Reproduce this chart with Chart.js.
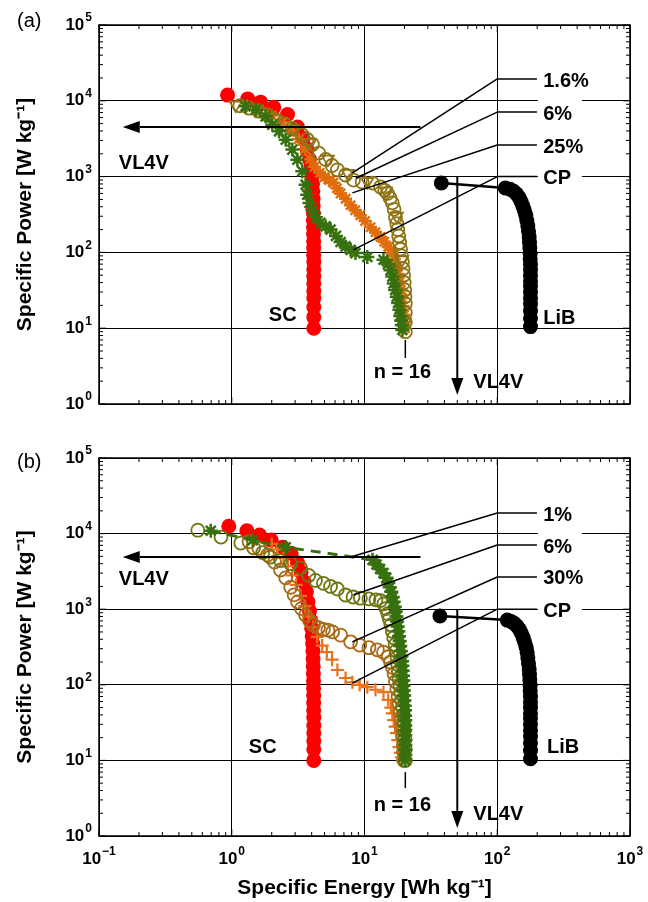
<!DOCTYPE html>
<html lang="en">
<head>
<meta charset="UTF-8">
<title>Ragone plots (a) and (b)</title>
<script src="https://cdn.jsdelivr.net/npm/chart.js"></script>
<style>
  body { margin: 0; background: #fff; }
  #wrap { position: relative; width: 648px; height: 902px; }
  canvas { position: absolute; left: 0; }
  #chartA { top: 0; }
  #chartB { top: 440px; }
</style>
</head>
<body>
<div id="wrap">
  <canvas id="chartA" width="648" height="440"></canvas>
  <canvas id="chartB" width="648" height="462"></canvas>
</div>
<script>
// ---- panel (a): specific energy [Wh/kg] and specific power [W/kg] ----
var aRedE = [0.93, 1.32, 1.65, 2.07, 2.63, 3.13, 3.45, 3.70, 3.85, 3.95, 4.02, 4.06, 4.08, 4.10, 4.11, 4.12, 4.12, 4.13, 4.13, 4.14, 4.14, 4.14, 4.15, 4.15, 4.15, 4.15, 4.15, 4.15, 4.15, 4.15, 4.15];
var aRedP = [11900, 10600, 9600, 8200, 6600, 4500, 3200, 2300, 1700, 1300, 1000, 800, 640, 510, 410, 330, 265, 215, 175, 140, 115, 92, 75, 60, 48, 39, 31, 25, 19, 14, 10];

var aGreenE = [1.27, 1.52, 1.80, 2.02, 2.27, 2.55, 2.86, 3.12, 3.40, 3.60, 3.70, 3.85, 4.05, 4.30, 4.65, 5.10, 5.55, 6.10, 6.60, 7.20, 7.86, 8.55, 10.5, 13.9, 15.0, 15.7, 16.2, 16.6, 17.0, 17.5, 17.9, 18.3, 18.6, 18.9, 19.1, 19.3];
var aGreenP = [8460, 7630, 6240, 4840, 3960, 3070, 2270, 1670, 1175, 782, 577, 450, 360, 290, 245, 220, 200, 165, 137, 120, 108, 98, 87, 80, 70, 58, 48, 39, 32, 26, 21.5, 17.5, 14.5, 12.5, 11, 9.5];

var aOliveE = [1.15, 1.35, 1.6, 1.85, 2.14, 2.5, 2.86, 3.4, 3.7, 4.05, 4.53, 5.1, 5.7, 6.25, 7.2, 8.25, 9.6, 11.5, 13.2, 14.2, 14.9, 15.6, 16.2, 16.7, 17.1, 17.5, 17.8, 18.1, 18.4, 18.7, 19.0, 19.3, 19.5, 19.7, 19.9, 20.1, 20.2, 20.3, 20.3, 20.3, 20.3];
var aOliveP = [8600, 8000, 7300, 6500, 5630, 5000, 4340, 3550, 3100, 2660, 2040, 1680, 1400, 1230, 1050, 900, 850, 820, 730, 660, 600, 520, 450, 370, 290, 240, 200, 165, 135, 110, 90, 75, 61, 50, 40, 32, 26, 21, 16, 12, 9];

var aTriE = [1.07, 1.5, 2.1, 2.9, 3.9, 5.3, 7.5, 10.5, 14.5, 17.5, 19.2, 20.2];
var aTriP = [8800, 7600, 5900, 4300, 2800, 1700, 1100, 860, 650, 300, 80, 12];

var aOrangeE = [1.3, 1.6, 2.0, 2.4, 2.8, 3.2, 3.55, 3.9, 4.2, 4.6, 5.0, 5.4, 5.83, 6.2, 6.6, 7.2, 7.86, 8.5, 9.3, 10.1, 11.1, 12.1, 13.2, 14.1, 15.1, 15.7, 16.2, 16.8, 17.4, 17.9, 18.4, 18.8, 19.2, 19.5, 19.8, 20.0, 20.1];
var aOrangeP = [8600, 7600, 6400, 5200, 4100, 3100, 2300, 1700, 1350, 1120, 980, 900, 830, 700, 600, 510, 420, 360, 310, 260, 215, 185, 160, 138, 118, 108, 98, 82, 66, 52, 41, 32, 25, 19.5, 15, 12, 10];

var aLibE = [37.9, 115, 125, 133, 140, 146, 151, 156, 160, 164, 167, 170, 172, 174, 175, 176, 177, 177, 178, 178, 178, 178, 178, 178, 178, 178, 178, 178, 178];
var aLibP = [824, 707, 680, 640, 590, 530, 470, 410, 360, 310, 265, 225, 190, 160, 135, 115, 97, 82, 70, 59, 50, 42, 36, 30, 25, 21, 17, 13.5, 10.5];

// ---- panel (b) ----
var bRedE = [0.95, 1.30, 1.62, 1.98, 2.42, 2.80, 3.13, 3.33, 3.50, 3.65, 3.75, 3.85, 3.93, 4.00, 4.04, 4.07, 4.09, 4.10, 4.11, 4.12, 4.13, 4.13, 4.14, 4.14, 4.14, 4.15, 4.15, 4.15, 4.15, 4.15, 4.15];
var bRedP = [12500, 10900, 9600, 8200, 6600, 5500, 4100, 3100, 2300, 1700, 1250, 950, 720, 560, 440, 350, 280, 220, 175, 140, 112, 90, 72, 58, 46, 37, 29, 23, 18, 14, 10];

var bGreenE = [0.695, 1.44, 2.55, 11.5, 12.3, 13.1, 13.9, 14.6, 15.1, 15.5, 15.9, 16.3, 16.6, 16.9, 17.2, 17.4, 17.6, 17.8, 18.0, 18.2, 18.4, 18.6, 18.8, 19.0, 19.2, 19.3, 19.4, 19.5, 19.6, 19.7, 19.8, 19.9, 20.0, 20.1, 20.2, 20.2, 20.3, 20.3, 20.3, 20.3, 20.3, 20.3, 20.3, 20.3, 20.3];
var bGreenP = [10900, 8200, 6600, 4500, 3900, 3400, 3000, 2600, 2250, 1950, 1700, 1450, 1250, 1080, 930, 800, 690, 590, 510, 440, 380, 325, 280, 240, 205, 178, 153, 132, 114, 98, 84, 72, 62, 53, 46, 39, 34, 29, 25, 21.5, 18.5, 16, 13.8, 11.9, 10];

var bOliveE = [0.555, 0.83, 1.17, 1.46, 1.71, 1.95, 2.33, 2.78, 3.3, 3.8, 4.27, 4.9, 5.55, 6.25, 7.2, 8.2, 9.3, 10.8, 12.2, 13.2, 14.0, 14.5, 15.0, 15.4, 15.8, 16.2, 16.6, 17.0, 17.3, 17.6, 17.8, 18.0, 18.2, 18.5, 18.8, 19.1, 19.3, 19.6, 19.8, 20.0, 20.2, 20.3, 20.3];
var bOliveP = [11100, 9000, 7500, 6500, 5600, 4900, 4400, 4000, 3500, 2800, 2400, 2200, 2000, 1850, 1540, 1450, 1400, 1370, 1330, 1300, 1180, 1020, 870, 740, 620, 510, 420, 340, 280, 230, 185, 150, 120, 96, 77, 62, 50, 40, 32, 25, 19, 14, 10];

var bBrownE = [1.35, 1.6, 1.86, 2.1, 2.33, 2.55, 2.78, 2.95, 3.13, 3.35, 3.6, 3.85, 4.13, 4.5, 4.9, 5.3, 5.75, 6.6, 7.86, 9.2, 10.8, 12.5, 13.9, 15.1, 15.7, 16.2, 16.7, 17.1, 17.5, 17.9, 18.2, 18.6, 18.9, 19.2, 19.4, 19.6, 19.7, 19.8];
var bBrownP = [7800, 6400, 5200, 4200, 3300, 2600, 1950, 1550, 1250, 1020, 840, 710, 620, 570, 540, 530, 500, 455, 370, 335, 310, 290, 270, 235, 200, 170, 140, 110, 88, 70, 56, 44, 35, 27, 21, 16, 13, 10];

var bOrangeE = [2.0, 2.2, 2.45, 2.65, 2.85, 3.05, 3.3, 3.55, 3.8, 4.1, 4.4, 4.8, 5.2, 5.7, 6.25, 7.2, 8.1, 9.2, 10.5, 12.1, 13.9, 15.1, 15.8, 16.2, 16.6, 17.0, 17.4, 17.8, 18.2, 18.6, 19.0, 19.3];
var bOrangeP = [7300, 6200, 4800, 3700, 2800, 2100, 1500, 1100, 800, 580, 430, 330, 270, 215, 157, 123, 108, 100, 93, 86, 80, 63, 50, 42, 34, 28, 23, 18.5, 15, 12.6, 11, 10];

var bLibE = [37, 119, 127, 134, 141, 147, 152, 157, 161, 165, 168, 170, 172, 174, 175, 176, 177, 177, 178, 178, 178, 178, 178, 178, 178, 178, 178, 178, 178];
var bLibP = [814, 718, 690, 650, 600, 540, 480, 420, 365, 315, 270, 228, 192, 162, 137, 116, 98, 83, 70, 59, 50, 42, 36, 30, 25, 21, 17, 13.5, 10.5];

var FONT = "'Liberation Sans', Arial, Helvetica, sans-serif";

function pts(E, P) {
    return E.map(function(e, i) { return {x: e, y: P[i]}; });
}
function isDecade(v) {
    var l = Math.log10(v);
    return Math.abs(l - Math.round(l)) < 1e-6;
}
// chart.js puts 1.5, 15, 150 ... in its log ticks, keep only 1..9 x 10^n
function keepWhole(scale) {
    scale.ticks = scale.ticks.filter(function(t) {
        var m = t.value / Math.pow(10, Math.floor(Math.log10(t.value) + 1e-9));
        return Math.abs(m - Math.round(m)) < 1e-6;
    });
}
function gridColor(c) {
    return (c.tick && isDecade(c.tick.value)) ? '#000' : 'rgba(0,0,0,0)';
}

function drawPow(ctx, e, x, y, align) {
    var sup = e < 0 ? '\u2212' + (-e) : String(e);
    ctx.font = 'bold 17px ' + FONT;
    var wb = ctx.measureText('10').width;
    ctx.font = 'bold 12px ' + FONT;
    var ws = ctx.measureText(sup).width;
    var w = wb + ws + 1;
    var left = align === 'right' ? x - w : x - w / 2;
    ctx.textAlign = 'left';
    ctx.textBaseline = 'middle';
    ctx.font = 'bold 17px ' + FONT;
    ctx.fillText('10', left, y);
    ctx.font = 'bold 12px ' + FONT;
    ctx.fillText(sup, left + wb + 1, y - 7);
}

function arrow(ctx, x0, y0, x1, y1) {
    var ang = Math.atan2(y1 - y0, x1 - x0), L = 17, W = 6;
    var c = Math.cos(ang), s = Math.sin(ang);
    ctx.beginPath();
    ctx.moveTo(x0, y0);
    ctx.lineTo(x1 - L * c, y1 - L * s);
    ctx.stroke();
    ctx.beginPath();
    ctx.moveTo(x1, y1);
    ctx.lineTo(x1 - L * c + W * s, y1 - L * s - W * c);
    ctx.lineTo(x1 - L * c - W * s, y1 - L * s + W * c);
    ctx.closePath();
    ctx.fill();
}

// arrows, leader lines, labels, frame and tick marks
function makeDecor(note) {
    return {
        id: 'decor',
        afterDatasetsDraw: function(chart) {
            var ctx = chart.ctx, a = chart.chartArea;
            var sx = chart.scales.x, sy = chart.scales.y;
            function X(v) { return sx.getPixelForValue(v); }
            function Y(v) { return sy.getPixelForValue(v); }
            function seg(x0, y0, x1, y1) {
                ctx.beginPath(); ctx.moveTo(x0, y0); ctx.lineTo(x1, y1); ctx.stroke();
            }
            ctx.save();

            // white strip behind the leader labels
            var ly = note.leaders.map(function(l) { return Y(l.y); });
            var top = Math.min.apply(null, ly) - 13, bot = Math.max.apply(null, ly) + 11;
            ctx.fillStyle = '#fff';
            ctx.fillRect(X(note.leadEnd) + 1, top, 44, bot - top);

            ctx.strokeStyle = '#000';
            ctx.fillStyle = '#000';
            ctx.lineWidth = 1.5;
            ctx.strokeRect(a.left, a.top, a.right - a.left, a.bottom - a.top);
            ctx.lineWidth = 1;
            sx.ticks.forEach(function(t) {
                var p = X(t.value), len = isDecade(t.value) ? 7 : 4;
                seg(p, a.bottom, p, a.bottom - len);
                seg(p, a.top, p, a.top + len);
            });
            sy.ticks.forEach(function(t) {
                var p = Y(t.value), len = isDecade(t.value) ? 7 : 4;
                seg(a.left, p, a.left + len, p);
                seg(a.right, p, a.right - len, p);
            });

            sy.ticks.forEach(function(t) {
                if (isDecade(t.value)) drawPow(ctx, Math.round(Math.log10(t.value)), a.left - 7, Y(t.value), 'right');
            });
            if (note.xLabels) {
                sx.ticks.forEach(function(t) {
                    if (isDecade(t.value)) drawPow(ctx, Math.round(Math.log10(t.value)), X(t.value), a.bottom + 23, 'center');
                });
            }

            ctx.lineWidth = 2;
            arrow(ctx, X(note.hArrow.from), Y(note.hArrow.y), X(note.hArrow.to), Y(note.hArrow.y));
            arrow(ctx, X(note.vArrow.x), Y(note.vArrow.from), X(note.vArrow.x), Y(note.vArrow.to));

            ctx.lineWidth = 1.5;
            ctx.font = 'bold 20px ' + FONT;
            ctx.textBaseline = 'middle';
            ctx.textAlign = 'left';
            note.leaders.forEach(function(l) {
                var y0 = Y(l.y), x0 = X(note.leadStart);
                seg(X(note.leadEnd), y0, x0, y0);
                seg(x0, y0, X(l.tx), Y(l.ty));
                ctx.fillText(l.text, X(note.leadText), y0 + 2);
            });

            note.labels.forEach(function(l) {
                ctx.textAlign = l.align;
                ctx.fillText(l.text, X(l.x), Y(l.y));
            });

            seg(X(note.nTick.x), Y(note.nTick.from), X(note.nTick.x), Y(note.nTick.to));

            ctx.font = '20px ' + FONT;
            ctx.textAlign = 'left';
            ctx.fillText(note.tag, 17, note.tagY);
            ctx.restore();
        }
    };
}

var noteA = {
    tag: '(a)', tagY: 21, xLabels: false,
    hArrow: {y: 4500, from: 26.4, to: 0.151},
    vArrow: {x: 50, from: 1000, to: 1.31},
    leadStart: 100, leadEnd: 199, leadText: 222,
    leaders: [
        {text: '1.6%', y: 19400, tx: 8.1, ty: 1120},
        {text: '6%', y: 7100, tx: 8.6, ty: 950},
        {text: '25%', y: 2610, tx: 8.1, ty: 610},
        {text: 'CP', y: 1000, tx: 8.25, ty: 108}
    ],
    labels: [
        {text: 'VL4V', x: 0.141, y: 1500, align: 'left'},
        {text: 'VL4V', x: 66, y: 1.95, align: 'left'},
        {text: 'SC', x: 2.42, y: 14.9, align: 'center'},
        {text: 'LiB', x: 222, y: 13.6, align: 'left'},
        {text: 'n = 16', x: 19.3, y: 2.64, align: 'center'}
    ],
    nTick: {x: 20.3, from: 7.0, to: 4.05}
};

var noteB = {
    tag: '(b)', tagY: 22, xLabels: true,
    hArrow: {y: 4900, from: 26.4, to: 0.151},
    vArrow: {x: 50, from: 1000, to: 1.28},
    leadStart: 100, leadEnd: 199, leadText: 222,
    leaders: [
        {text: '1%', y: 18700, tx: 7.86, ty: 4900},
        {text: '6%', y: 7060, tx: 8.25, ty: 1540},
        {text: '30%', y: 2670, tx: 8.1, ty: 370},
        {text: 'CP', y: 1000, tx: 8.1, ty: 105}
    ],
    labels: [
        {text: 'VL4V', x: 0.141, y: 2440, align: 'left'},
        {text: 'VL4V', x: 66, y: 1.9, align: 'left'},
        {text: 'SC', x: 1.71, y: 15, align: 'center'},
        {text: 'LiB', x: 237, y: 15, align: 'left'},
        {text: 'n = 16', x: 19.3, y: 2.57, align: 'center'}
    ],
    nTick: {x: 20.3, from: 7.0, to: 4.3}
};

function makeOptions(showX) {
    return {
        responsive: false,
        animation: false,
        events: [],
        layout: {padding: {left: 0, right: 18, top: showX ? 18 : 25, bottom: 0}},
        plugins: {legend: {display: false}, tooltip: {enabled: false}},
        scales: {
            x: {
                type: 'logarithmic', min: 0.1, max: 1000,
                afterBuildTicks: keepWhole,
                ticks: {display: false, autoSkip: false},
                grid: {color: gridColor, drawTicks: false, lineWidth: 1},
                border: {display: false},
                title: {
                    display: showX, text: 'Specific Energy [Wh kg\u207B\u00B9]', color: '#000',
                    font: {family: FONT, size: 21, weight: 'bold'}, padding: {top: 0, bottom: 1}
                },
                afterFit: function(s) { s.height = showX ? 66 : 36; }
            },
            y: {
                type: 'logarithmic', min: 1, max: 100000,
                afterBuildTicks: keepWhole,
                ticks: {display: false, autoSkip: false},
                grid: {color: gridColor, drawTicks: false, lineWidth: 1},
                border: {display: false},
                title: {
                    display: true, text: 'Specific Power [W kg\u207B\u00B9]', color: '#000',
                    font: {family: FONT, size: 21, weight: 'bold'}, padding: {top: 13, bottom: 0}
                },
                afterFit: function(s) { s.width = 99; }
            }
        }
    };
}

function circle(color, r, filled) {
    return {
        pointStyle: 'circle', pointRadius: r, pointBorderWidth: filled ? 0 : 1.8,
        pointBorderColor: color, pointBackgroundColor: filled ? color : 'rgba(0,0,0,0)'
    };
}
function mark(style, color, r, bw) {
    return {pointStyle: style, pointRadius: r, pointBorderWidth: bw, pointBorderColor: color, pointBackgroundColor: color};
}
function ds(label, data, look, extra) {
    return Object.assign({label: label, data: data, showLine: false}, look, extra || {});
}

var GREEN = '#37700f', RED = '#ff0000';

// first dataset is drawn on top
new Chart(document.getElementById('chartA'), {
    type: 'scatter',
    data: {
        datasets: [
            ds('CP', pts(aGreenE, aGreenP), mark('star', GREEN, 7, 2.5)),
            ds('1.6%', pts(aOliveE, aOliveP), circle('#8c7414', 6.5, false)),
            ds('6%', pts(aTriE, aTriP), {pointStyle: 'triangle', pointRotation: 180, pointRadius: 7, pointBorderWidth: 1.8, pointBorderColor: '#9a7420', pointBackgroundColor: 'rgba(0,0,0,0)'}),
            ds('25%', pts(aOrangeE, aOrangeP), mark('star', '#e06c0c', 6.5, 2.5)),
            ds('SC', pts(aRedE, aRedP), circle(RED, 7.5, true)),
            ds('LiB', pts(aLibE, aLibP), circle('#000', 7.5, true), {showLine: true, borderColor: '#000', borderWidth: 2.5})
        ]
    },
    options: makeOptions(false),
    plugins: [makeDecor(noteA)]
});

new Chart(document.getElementById('chartB'), {
    type: 'scatter',
    data: {
        datasets: [
            ds('1%', pts(bGreenE, bGreenP), mark('star', GREEN, 7, 2.5), {showLine: true, borderColor: GREEN, borderWidth: 3, borderDash: [10, 7]}),
            ds('6%', pts(bOliveE, bOliveP), circle('#6f7512', 6.5, false)),
            ds('30%', pts(bBrownE, bBrownP), circle('#a86a16', 6.5, false)),
            ds('CP', pts(bOrangeE, bOrangeP), mark('cross', '#e8721a', 6.5, 2.2)),
            ds('SC', pts(bRedE, bRedP), circle(RED, 7.5, true)),
            ds('LiB', pts(bLibE, bLibP), circle('#000', 7.5, true), {showLine: true, borderColor: '#000', borderWidth: 2.5})
        ]
    },
    options: makeOptions(true),
    plugins: [makeDecor(noteB)]
});
</script>
</body>
</html>
